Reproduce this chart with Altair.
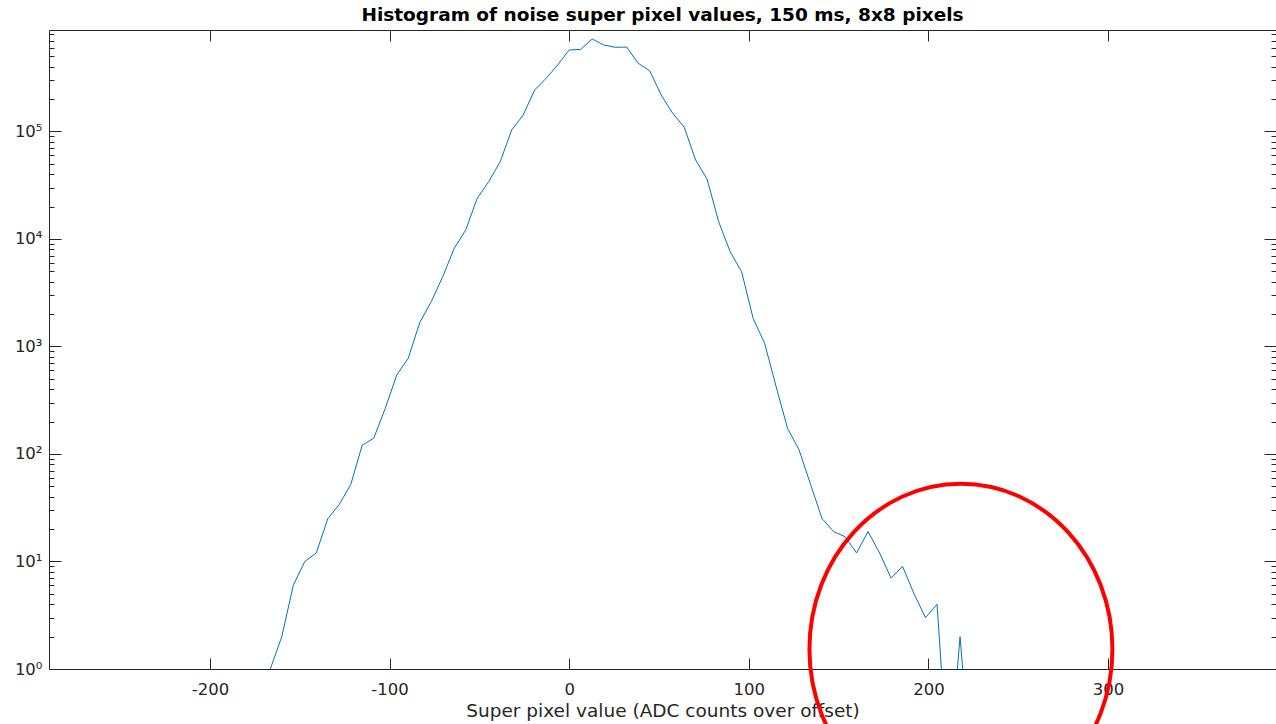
import altair as alt
import pandas as pd

# ---- data ----
bin_centers = [-166.4, -160.0, -153.6, -147.2, -140.8, -134.4, -128.0, -121.6, -115.2, -108.8,
               -102.4, -96.0, -89.6, -83.2, -76.8, -70.4, -64.0, -57.6, -51.2, -44.8,
               -38.4, -32.0, -25.6, -19.2, -12.8, -6.4, 0.0, 6.4, 12.8, 19.2,
               25.6, 32.0, 38.4, 44.8, 51.2, 57.6, 64.0, 70.4, 76.8, 83.2,
               89.6, 96.0, 102.4, 108.8, 115.2, 121.6, 128.0, 134.4, 140.8, 147.2,
               153.6, 160.0, 166.4, 172.8, 179.2, 185.6, 192.0, 198.4, 204.8, 211.2,
               217.6, 224.0]
counts = [1, 2, 6, 10, 12, 25, 34, 52, 121, 140,
          266, 543, 777, 1670, 2610, 4460, 8190, 12130, 23900, 34100,
          52400, 103300, 142300, 243300, 312600, 415600, 573000, 580000, 725000, 638000,
          607000, 610000, 431000, 368000, 218600, 147600, 110000, 54300, 36000, 14500,
          7620, 4960, 1830, 1071, 423, 173, 109, 52, 25, 19,
          17, 12, 19, 12, 7, 9, 5, 3, 4, 0,
          2, 0]

x_ticks = [-200, -100, 0, 100, 200, 300]
y_major = [1, 10, 100, 1000, 10000, 100000]
y_minor_mult = [2, 3, 4, 5, 6, 7, 8, 9]

x_domain = [-289.6, 393.5]
y_domain = [1, 879000]

# red annotation ellipse (data coordinates of its centre)
circle_x = [218.1]
circle_y = [1.53]

title_text = "Histogram of noise super pixel values, 150 ms, 8x8 pixels"
xlabel_text = "Super pixel value (ADC counts over offset)"

# ---- styling ----
W, H = 1227, 639
FONT = "DejaVu Sans"
AX = "#262626"
LINE = "#0072BD"

y_all = sorted(y_major + [m * v for v in y_major for m in y_minor_mult if m * v <= y_domain[1]])
major_test = "indexof([1,10,100,1000,10000,100000], datum.value) >= 0"
y_label_expr = "'10' + ['\u2070','\u00b9','\u00b2','\u00b3','\u2074','\u2075'][round(log(datum.value)/LN10)]"

df = pd.DataFrame({"x": bin_centers, "count": counts})
xs = alt.Scale(domain=x_domain, nice=False, zero=False)
ys = alt.Scale(type="log", domain=y_domain, nice=False)

base = alt.Chart(df).transform_calculate(yplot="max(datum.count, 0.1)")

line = base.mark_line(color=LINE, strokeWidth=1, clip=True).encode(
    x=alt.X("x:Q", scale=xs, title=xlabel_text,
            axis=alt.Axis(values=x_ticks, ticks=False, grid=False, domain=True,
                          domainColor=AX, domainWidth=1,
                          labelExpr="'' + datum.value",
                          labelFont=FONT, labelFontSize=16.5, labelColor=AX,
                          labelPadding=12, labelFlush=False,
                          titleFont=FONT, titleFontSize=18.5, titleFontWeight="normal",
                          titleColor=AX, titleY=47, titleBaseline="alphabetic")),
    y=alt.Y("yplot:Q", scale=ys, title=None,
            axis=alt.Axis(values=y_major, ticks=False, grid=False, domain=True,
                          domainColor=AX, domainWidth=1,
                          labelExpr=y_label_expr, labelFont=FONT, labelFontSize=16.5,
                          labelColor=AX, labelPadding=7, labelBaseline="middle",
                          labelOverlap=False, labelFlush=False)),
)

# inward ticks on the bottom and left edges
ticks_bl = base.mark_line(opacity=0).encode(
    x=alt.X("x:Q", scale=xs, title=None,
            axis=alt.Axis(orient="top", offset=-H, values=x_ticks, labels=False,
                          domain=False, grid=False, ticks=True, tickSize=11,
                          tickColor=AX, tickWidth=1)),
    y=alt.Y("yplot:Q", scale=ys, title=None,
            axis=alt.Axis(orient="right", offset=-W, values=y_all, labels=False,
                          domain=False, grid=False, ticks=True, tickColor=AX, tickWidth=1,
                          tickSize={"condition": {"test": major_test, "value": 12}, "value": 5})),
)

# inward ticks on the top and right edges (top border line too)
ticks_tr = base.mark_line(opacity=0).encode(
    x=alt.X("x:Q", scale=xs, title=None,
            axis=alt.Axis(orient="bottom", offset=-H, values=x_ticks, labels=False,
                          domain=True, domainColor=AX, domainWidth=1, grid=False,
                          ticks=True, tickSize=11, tickColor=AX, tickWidth=1)),
    y=alt.Y("yplot:Q", scale=ys, title=None,
            axis=alt.Axis(orient="left", offset=-W, values=y_all, labels=False,
                          domain=False, grid=False, ticks=True, tickColor=AX, tickWidth=1,
                          tickSize={"condition": {"test": major_test, "value": 12}, "value": 5})),
)

ELLIPSE = ("M -1 0 C -1 -0.6028 -0.5523 -1.0914 0 -1.0914 "
           "C 0.5523 -1.0914 1 -0.6028 1 0 "
           "C 1 0.6028 0.5523 1.0914 0 1.0914 "
           "C -0.5523 1.0914 -1 0.6028 -1 0 Z")

circle = alt.Chart(pd.DataFrame({"x": circle_x, "y": circle_y})).mark_point(
    shape=ELLIPSE, size=91809, filled=False, color="#ff0000", strokeWidth=4, opacity=1
).encode(
    x=alt.X("x:Q", scale=xs, axis=None),
    y=alt.Y("y:Q", scale=ys, axis=None),
)

chart = alt.layer(line, ticks_bl, ticks_tr, circle).resolve_scale(
    x="shared", y="shared"
).resolve_axis(
    x="independent", y="independent"
).properties(
    width=W, height=H,
    title=alt.Title(title_text, font=FONT, fontSize=18.5, fontWeight="bold", color="black",
                    anchor="middle", frame="group", baseline="alphabetic", offset=9, dy=19),
    padding={"left": 49, "top": 30, "right": 0, "bottom": 55},
    autosize="none",
).configure_view(strokeWidth=0)

chart.save("out.html", embed_options={"renderer": "svg", "actions": False})
